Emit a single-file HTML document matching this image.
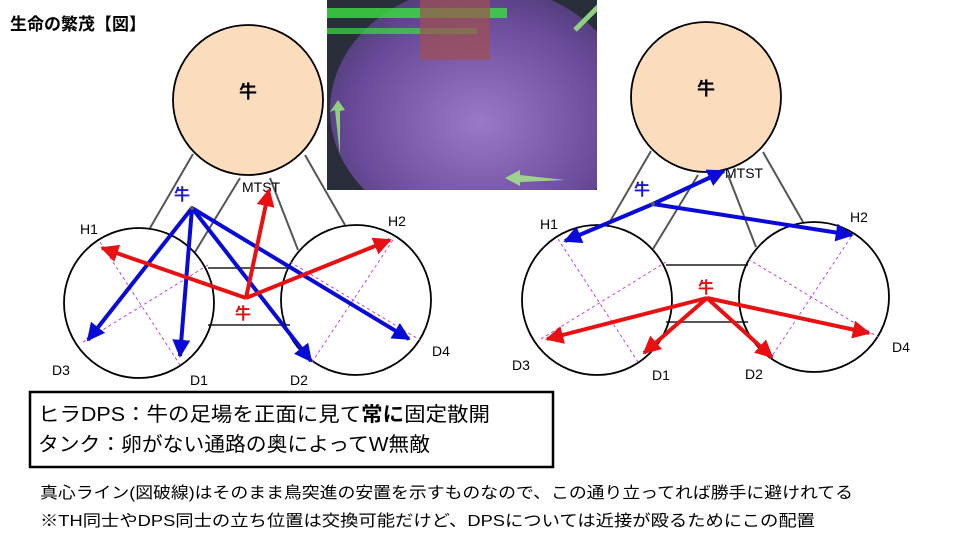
<!DOCTYPE html>
<html><head><meta charset="utf-8"><style>
html,body{margin:0;padding:0;background:#fff;}
svg{display:block}
text{font-family:"Liberation Sans","Noto Sans CJK JP",sans-serif;}
</style></head><body>
<svg width="960" height="540" viewBox="0 0 960 540" xmlns="http://www.w3.org/2000/svg">
<defs>
<marker id="ab" viewBox="0 0 10 10" refX="9" refY="5" markerWidth="4.5" markerHeight="4.5" orient="auto-start-reverse" markerUnits="strokeWidth"><path d="M0,0 L10,5 L0,10 z" fill="#0a0ad8"/></marker>
<marker id="ar" viewBox="0 0 10 10" refX="9" refY="5" markerWidth="4.5" markerHeight="4.5" orient="auto-start-reverse" markerUnits="strokeWidth"><path d="M0,0 L10,5 L0,10 z" fill="#e81010"/></marker>
<radialGradient id="pg" cx="0.5" cy="0.55" r="0.6"><stop offset="0" stop-color="#9a7ac8"/><stop offset="0.7" stop-color="#6a4a9a"/><stop offset="1" stop-color="#4a3a70"/></radialGradient>
<clipPath id="pc"><rect x="327" y="0" width="270" height="190"/></clipPath>
<g id="base">
<line x1="193" y1="154" x2="150" y2="228" stroke="#555" stroke-width="2"/>
<line x1="240" y1="178" x2="195" y2="252" stroke="#555" stroke-width="2"/>
<line x1="270" y1="178" x2="298" y2="250" stroke="#555" stroke-width="2"/>
<line x1="305" y1="155" x2="345" y2="225" stroke="#555" stroke-width="2"/>
<line x1="208" y1="268" x2="290" y2="268" stroke="#555" stroke-width="2"/>
<line x1="208" y1="325" x2="290" y2="325" stroke="#555" stroke-width="2"/>
<circle cx="248" cy="100" r="75" fill="#fbdcbc" stroke="#000" stroke-width="1.8"/>
<circle cx="139" cy="303" r="75" fill="none" stroke="#000" stroke-width="1.8"/>
<circle cx="356" cy="300" r="75" fill="none" stroke="#000" stroke-width="1.8"/>
<g stroke="#c040e0" stroke-width="1" stroke-dasharray="3,3">
<line x1="100" y1="242" x2="180" y2="365"/>
<line x1="83" y1="342" x2="208" y2="265"/>
<line x1="290" y1="262" x2="420" y2="340"/>
<line x1="393" y1="240" x2="312" y2="362"/>
</g>
<text x="248" y="98" font-size="18" font-weight="bold" text-anchor="middle">牛</text>
</g>
</defs>
<text x="10" y="30" font-size="17" font-weight="bold">生命の繁茂【図】</text>
<use href="#base"/>
<use href="#base" transform="translate(458,-3)"/>
<!-- photo -->
<g clip-path="url(#pc)">
<rect x="327" y="0" width="270" height="190" fill="#2a2d3a"/>
<ellipse cx="480" cy="110" rx="150" ry="125" fill="url(#pg)"/>
<rect x="327" y="8" width="180" height="10" fill="#3ae040" opacity="0.8"/>
<rect x="327" y="28" width="150" height="6" fill="#3ae040" opacity="0.7"/>
<rect x="420" y="0" width="70" height="60" fill="#a05050" opacity="0.7"/>
<path d="M340,155 L335,110 L330,112 L338,100 L345,110 L340,111 Z" fill="#8ed080"/>
<path d="M565,180 L520,175 L520,170 L505,178 L520,186 L520,182 Z" fill="#a0d090"/>
<path d="M600,5 L575,30" stroke="#8ed080" stroke-width="5"/>
</g>
<!-- left labels -->
<g font-size="14">
<text x="242" y="192">MTST</text>
<text x="80" y="234">H1</text><text x="388" y="226">H2</text>
<text x="52" y="375">D3</text><text x="190" y="385">D1</text>
<text x="290" y="385">D2</text><text x="432" y="356">D4</text>
</g>
<text x="174" y="200" font-size="16" font-weight="bold" fill="#1a1ad0">牛</text>
<text x="235" y="319" font-size="16" font-weight="bold" fill="#e01010">牛</text>
<g stroke="#0a0ad8" stroke-width="4" marker-end="url(#ab)">
<line x1="192" y1="208" x2="88" y2="340"/>
<line x1="192" y1="208" x2="180" y2="356"/>
<line x1="192" y1="208" x2="311" y2="361"/>
<line x1="192" y1="208" x2="409" y2="339"/>
</g>
<g stroke="#e81010" stroke-width="4" marker-end="url(#ar)">
<line x1="246" y1="298" x2="269" y2="190"/>
<line x1="246" y1="298" x2="102" y2="248"/>
<line x1="246" y1="298" x2="390" y2="240"/>
</g>
<circle cx="192" cy="208" r="2" fill="#555"/>
<!-- right labels -->
<g font-size="14">
<text x="725" y="178">MTST</text>
<text x="540" y="229">H1</text><text x="850" y="222">H2</text>
<text x="512" y="370">D3</text><text x="652" y="380">D1</text>
<text x="745" y="379">D2</text><text x="892" y="352">D4</text>
</g>
<text x="634" y="195" font-size="16" font-weight="bold" fill="#1a1ad0">牛</text>
<text x="698" y="293" font-size="16" font-weight="bold" fill="#e01010">牛</text>
<g stroke="#0a0ad8" stroke-width="4" marker-end="url(#ab)">
<line x1="653" y1="204" x2="724" y2="171"/>
<line x1="653" y1="204" x2="565" y2="241"/>
<line x1="653" y1="204" x2="852" y2="235"/>
</g>
<g stroke="#e81010" stroke-width="4" marker-end="url(#ar)">
<line x1="707" y1="298" x2="547" y2="339"/>
<line x1="707" y1="298" x2="644" y2="353"/>
<line x1="707" y1="298" x2="772" y2="357"/>
<line x1="707" y1="298" x2="869" y2="333"/>
</g>
<circle cx="653" cy="204" r="2" fill="#555"/>
<!-- box -->
<rect x="30" y="392" width="523" height="75" fill="#fff" stroke="#000" stroke-width="2.5"/>
<text x="38" y="421" font-size="20" textLength="452" lengthAdjust="spacingAndGlyphs">ヒラDPS：牛の足場を正面に見て<tspan font-weight="bold">常に</tspan>固定散開</text>
<text x="38" y="451" font-size="20" textLength="392" lengthAdjust="spacingAndGlyphs">タンク：卵がない通路の奥によってW無敵</text>
<text x="40" y="498" font-size="16" textLength="813" lengthAdjust="spacingAndGlyphs">真心ライン(図破線)はそのまま鳥突進の安置を示すものなので、この通り立ってれば勝手に避けれてる</text>
<text x="40" y="526" font-size="16" textLength="775" lengthAdjust="spacingAndGlyphs">※TH同士やDPS同士の立ち位置は交換可能だけど、DPSについては近接が殴るためにこの配置</text>
</svg>
</body></html>
